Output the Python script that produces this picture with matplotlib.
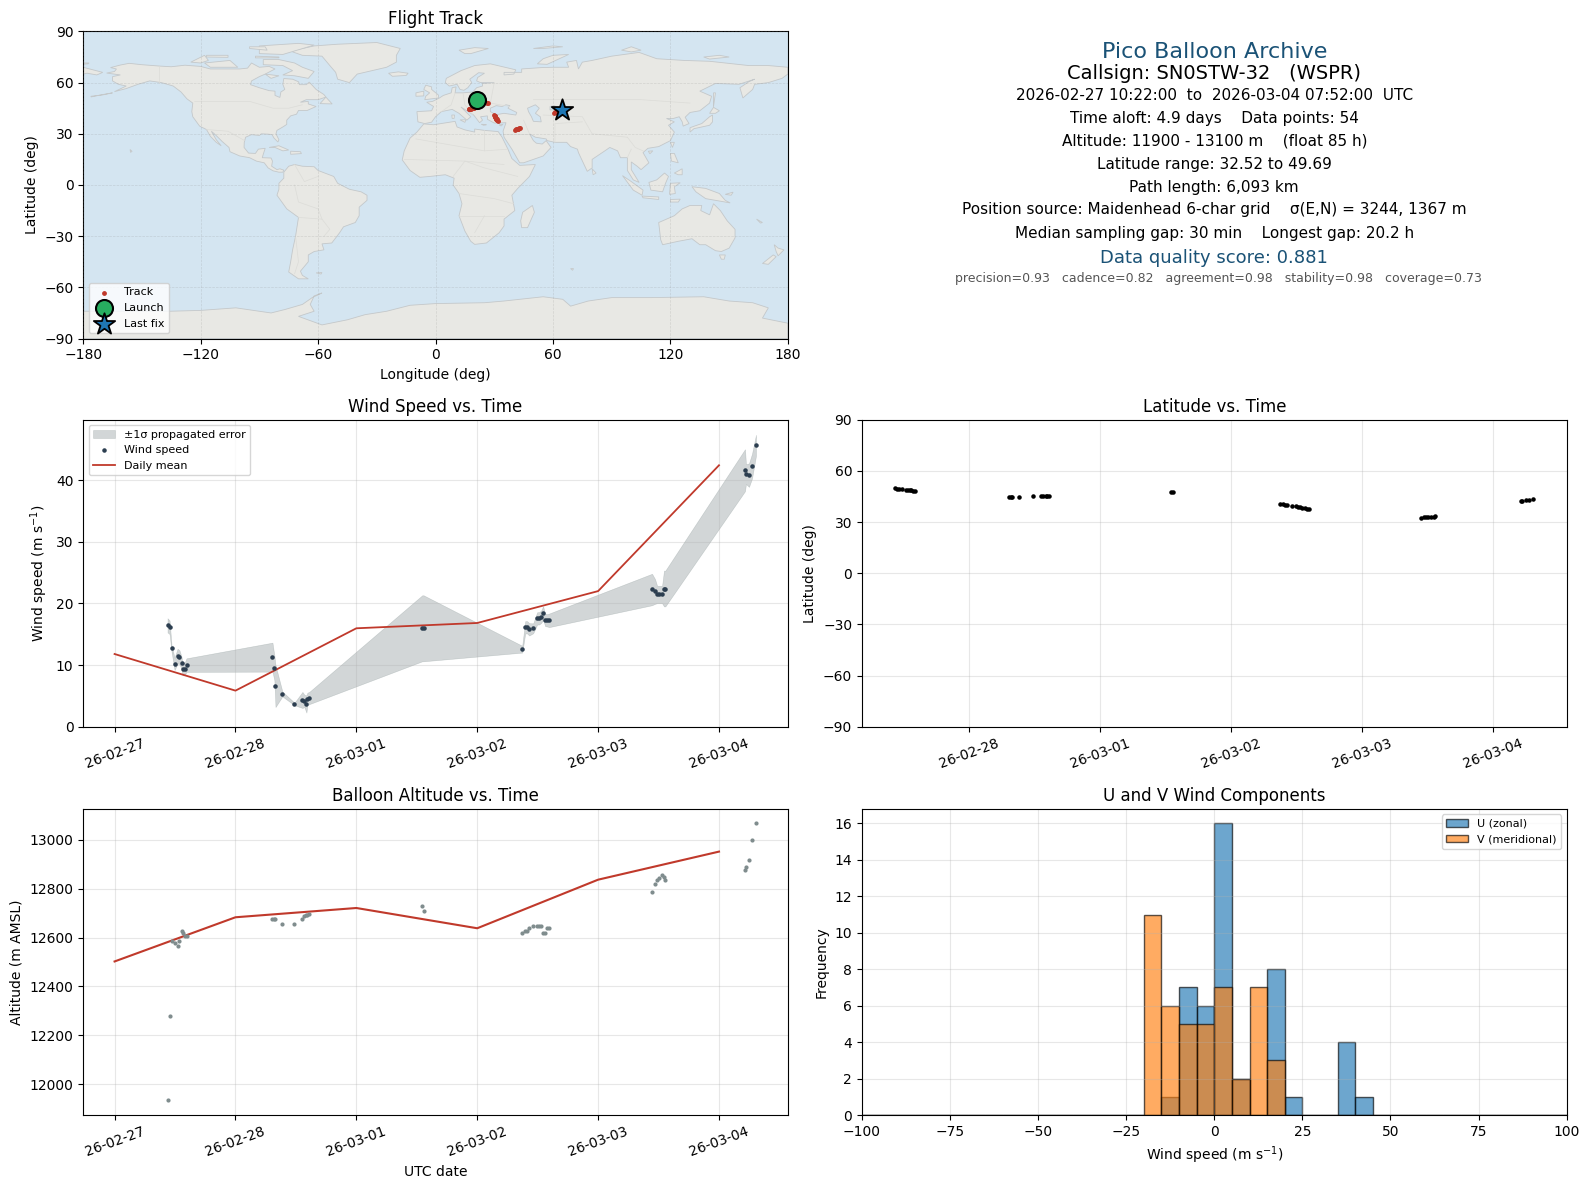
import numpy as np
import matplotlib
matplotlib.use("Agg")
import matplotlib.pyplot as plt
import matplotlib.dates as mdates

START = mdates.datestr2num("2026-02-27")

# days since 2026-02-27 00:00 UTC
days = [0.438, 0.455, 0.471, 0.496, 0.521, 0.537, 0.554, 0.562, 0.579, 0.595,
        1.306, 1.322, 1.331, 1.388, 1.488, 1.554, 1.570, 1.587, 1.595, 1.612,
        2.545, 2.556,
        3.372, 3.397, 3.413, 3.430, 3.463, 3.496, 3.512, 3.529, 3.545, 3.562, 3.579, 3.595,
        4.446, 4.471, 4.488, 4.504, 4.529, 4.545, 4.556,
        5.215, 5.223, 5.248, 5.273, 5.306]
wind = [16.45, 16.13, 12.74, 10.2, 11.45, 11.29, 10.32, 9.35, 9.35, 10.0,
        11.29, 9.52, 6.6, 5.32, 3.7, 4.35, 4.19, 3.7, 4.52, 4.68,
        15.97, 15.97,
        12.58, 16.13, 16.13, 15.8, 15.97, 17.58, 17.58, 17.85, 18.44, 17.31, 17.26, 17.26,
        22.26, 21.94, 21.45, 21.45, 21.45, 22.42, 22.42,
        41.6, 40.97, 40.8, 42.26, 45.65]
wind_err = [1.15, 1.1, 0.5, 1.0, 1.2, 1.1, 1.0, 1.0, 1.0, 1.1,
            2.35, 2.0, 3.4, 0.4, 0.2, 1.3, 1.0, 1.4, 1.0, 1.0,
            5.35, 5.35,
            0.55, 1.0, 1.0, 1.0, 0.8, 1.0, 1.0, 1.0, 1.1, 1.0, 1.0, 1.1,
            2.55, 2.0, 1.4, 1.4, 1.4, 2.9, 2.9,
            3.4, 1.6, 1.9, 2.0, 1.7]
altitude = [11935, 12277, 12587, 12579, 12567, 12587, 12628, 12620, 12608, 12608,
            12677, 12677, 12677, 12657, 12657, 12677, 12688, 12692, 12694, 12698,
            12730, 12710,
            12620, 12628, 12628, 12640, 12649, 12649, 12649, 12649, 12620, 12620, 12640, 12640,
            12788, 12820, 12837, 12845, 12857, 12849, 12837,
            12877, 12890, 12918, 13000, 13070]
lat = [49.69, 49.6, 49.5, 49.4, 49.0, 48.9, 48.8, 48.7, 48.3, 48.2,
       44.7, 44.7, 44.6, 44.7, 45.3, 45.4, 45.4, 45.4, 45.3, 45.3,
       47.6, 47.7,
       40.8, 40.5, 40.2, 40.0, 39.6, 39.2, 38.8, 38.6, 38.4, 38.0, 37.8, 37.7,
       32.52, 32.8, 32.9, 33.0, 33.0, 33.2, 33.6,
       42.4, 42.5, 43.0, 43.1, 43.7]
lon = [21.3, 21.9, 22.5, 23.1, 23.7, 24.3, 24.9, 25.5, 26.1, 26.6,
       17.0, 17.3, 17.6, 17.9, 18.2, 18.5, 18.8, 19.0, 19.3, 19.5,
       23.0, 23.3,
       30.0, 30.2, 30.3, 30.5, 30.6, 30.8, 30.9, 31.1, 31.2, 31.4, 31.5, 31.7,
       40.5, 41.0, 41.4, 41.9, 42.3, 42.8, 43.2,
       60.6, 61.2, 62.0, 63.0, 64.5]

mean_days = [0, 1, 2, 3, 4, 5]
mean_wind = [11.8, 5.86, 15.97, 16.83, 22.0, 42.4]
mean_alt = [12502, 12683, 12721, 12638, 12837, 12952]

hist_edges = np.arange(-100, 105, 5)
u_left = [-15, -10, -5, 0, 5, 15, 20, 35, 40]
u_counts = [1, 7, 6, 16, 2, 8, 1, 4, 1]
v_left = [-20, -15, -10, -5, 0, 5, 10, 15]
v_counts = [11, 6, 5, 5, 7, 2, 7, 3]

north_america = [(-168, 65.6), (-164, 66.5), (-163, 68), (-166, 68.8), (-161, 70.3), (-156.5, 71.3), (-150, 70.5),
                 (-141, 69.7), (-135, 69.3), (-128, 70.2), (-120, 69.5), (-115, 68), (-108, 68), (-100, 68),
                 (-96, 68.5), (-94, 71.5), (-90, 69), (-85, 69.5), (-82, 68), (-87, 65), (-90, 63.5), (-94, 61),
                 (-94.5, 58.8), (-90, 57), (-85, 55.3), (-82, 55), (-82, 52.5), (-79.5, 51.3), (-79, 54.5), (-77, 56),
                 (-78, 59), (-77.5, 62.4), (-73, 62), (-70, 60.5), (-69.5, 58.8), (-66, 58.8), (-64.5, 60.3), (-61, 56),
                 (-57, 53), (-56, 51.5), (-60, 50), (-66, 50), (-69, 48.5), (-65, 49), (-65, 47.5), (-61, 46),
                 (-65.5, 43.7), (-70, 43.7), (-71, 41.5), (-74, 40.5), (-76, 38), (-76, 35.5), (-78, 34), (-81, 32),
                 (-81.5, 30), (-80, 26.5), (-80.5, 25.2), (-82.5, 27.5), (-83.5, 29.5), (-85.5, 29.8), (-89, 30),
                 (-90, 29), (-94, 29.5), (-97, 28), (-97.7, 25), (-97.8, 22), (-95.5, 18.7), (-92, 18.5), (-90.5, 21),
                 (-87, 21.5), (-88, 18), (-88.5, 16), (-84, 15.8), (-83.3, 14), (-83.7, 11), (-81, 9), (-79.5, 9.5),
                 (-77.5, 8.7), (-78, 7.5), (-80, 7.5), (-83, 8.3), (-85.5, 10), (-87.5, 13), (-91.5, 14), (-95, 16),
                 (-100, 17), (-105, 19.5), (-105.5, 22), (-109, 25.5), (-112.5, 29.5), (-114.5, 31.5), (-112, 26.5),
                 (-109.5, 23), (-112, 25), (-115, 28.5), (-117, 32.5), (-120.5, 34.5), (-124, 40), (-124.5, 43),
                 (-124, 48), (-127, 50.5), (-130, 54.5), (-134, 58), (-140, 60), (-146, 61), (-152, 59), (-158, 56.5),
                 (-164, 54.7), (-158, 58), (-162, 59), (-165, 61), (-165, 63.5), (-161, 64.5)]
south_america = [(-72, 12), (-68, 11), (-62, 10.7), (-60, 8.5), (-52, 5), (-50, 1), (-44, -2.5), (-38, -4), (-35, -6),
                 (-35, -9), (-39, -13), (-39, -18), (-41, -22), (-47, -24.5), (-49, -28), (-53, -34), (-58, -34.5),
                 (-57, -38), (-62, -39), (-65, -41), (-65, -45), (-69, -50.5), (-68, -53), (-65, -55), (-70, -55),
                 (-75, -51), (-74, -45), (-73, -38), (-71.5, -30), (-70, -19), (-76, -14), (-81, -6), (-80, -2.5),
                 (-80, 1), (-77.5, 4), (-77.5, 7.5), (-75, 11)]
africa = [(-6, 35.8), (-1, 35.3), (10, 37.3), (11, 34), (15, 32.3), (20, 31), (20, 32.8), (25, 32), (32, 31.3), (34, 28),
          (37, 21), (39, 15.5), (43, 11.5), (51, 12), (48, 5), (42, -2), (39, -6), (40.5, -15), (35, -20), (35, -24),
          (32.5, -28), (26, -34), (20, -34.8), (18, -33), (15, -27), (12, -18), (13.5, -11), (12, -5), (9, 0), (9.5, 4),
          (5, 6), (-3, 5), (-8, 4.5), (-13, 8.5), (-17, 14.7), (-16, 20), (-13, 27.5), (-9.5, 31)]
eurasia = [(-5.5, 36), (-9, 37), (-9.5, 43), (-2, 43.5), (-1, 46), (-4.5, 48.5), (-1.5, 49), (2, 51), (4, 52.5), (8, 54),
           (8.5, 57), (10.5, 57.5), (10, 54), (14, 54), (19, 54.5), (21, 57), (24, 58), (24, 59.5), (30, 60), (23, 60),
           (21, 61), (21.5, 63), (25, 65.5), (22, 65.8), (17.5, 62), (18.5, 60), (16.5, 57), (14.5, 55.5), (12.5, 56),
           (11, 59), (7, 58), (5, 60), (5.5, 62.5), (13, 67), (20, 70), (28, 71), (41, 67.5), (40, 65), (35, 64.5),
           (35, 66), (44, 66), (44, 68), (54, 68.8), (60, 69), (68, 69), (67, 72), (72, 73), (73, 68), (75, 72), (80, 73),
           (90, 75.5), (104, 77.7), (113, 74), (127, 73), (140, 72.5), (160, 70), (170, 70), (180, 69), (180, 65),
           (177, 62.5), (170, 60), (163, 59), (162, 56), (157, 51), (155.5, 57), (160, 60.5), (163, 62), (155, 59),
           (143, 59.5), (135, 55), (141, 52), (140, 48), (135, 43.5), (130, 42.5), (127.5, 39.7), (129.5, 36),
           (126.5, 34.5), (126, 37), (124.5, 40), (121.5, 39), (118, 39), (122, 37), (119, 35), (122, 31), (120, 26),
           (114, 22.5), (108.5, 21.5), (106, 19), (109, 13), (105, 9), (103, 11), (100, 13.5), (100, 9), (104, 1.5),
           (101, 3), (98, 8.5), (98, 16), (94.5, 16), (93, 20), (89, 22), (86.5, 20), (80, 15), (80, 10), (77.5, 8),
           (73, 19), (72.5, 21), (69, 22.5), (67, 25), (61, 25), (57, 26), (56.5, 27), (51, 28), (48, 30), (50, 26),
           (51.5, 24.5), (54.5, 24), (56.5, 26), (59, 22), (55, 17), (45, 13), (43, 13), (39, 21), (35, 28), (34.5, 31.5),
           (36, 36.5), (30, 36.3), (26.5, 38.5), (26.5, 40.5), (23, 40), (24, 38), (22.5, 36.5), (19.5, 41), (13, 45.7),
           (18, 40), (16, 38), (12, 42), (8.5, 44.3), (3, 43), (0, 40), (-2, 36.8)]
greenland = [(-73, 78), (-68, 76), (-58, 75.5), (-54, 70), (-51, 66), (-50, 62), (-44, 60), (-40, 65), (-25, 69), (-20, 72),
             (-20, 76), (-18, 80), (-30, 83.5), (-50, 82.5), (-62, 81.5), (-72, 79)]
australia = [(114, -22), (122, -18), (126, -14), (130, -12), (136, -12), (135.5, -15), (140, -17.5), (142, -11),
             (145.5, -15), (149, -21), (153, -26), (153, -31), (150, -37), (146, -39), (143, -38.5), (138, -35),
             (135, -35), (131, -31.5), (124, -33), (116, -35), (115, -32)]
antarctica = [(-180, -74), (-136, -74), (-120, -73.5), (-102, -72), (-84, -75), (-77, -73), (-68, -70), (-63, -66),
              (-58, -63.3), (-62, -65), (-64, -70), (-62, -74), (-70, -77), (-58, -82), (-45, -79), (-36, -76),
              (-25, -74), (-13, -70.5), (0, -69.5), (25, -69), (35, -68), (55, -65.5), (65, -67), (69, -71), (78, -68),
              (90, -66), (110, -66), (137, -65.5), (150, -68), (162, -69), (170, -72), (167, -78), (180, -81),
              (180, -90), (-180, -90)]
islands = [
    [(-80, 73.5), (-72, 71.5), (-68, 69), (-62, 66.5), (-65, 62.5), (-72, 64), (-78, 64.5), (-73, 67), (-78, 70), (-88, 70.5), (-88, 73.5)],
    [(-118, 71.5), (-105, 73), (-101, 69), (-115, 69)],
    [(-125, 72), (-118, 76), (-116, 73), (-120, 71.5)],
    [(-90, 77), (-78, 76.5), (-62, 82), (-70, 83), (-90, 81.5)],
    [(-92, 75.5), (-80, 75), (-80, 74.5), (-92, 74.5)],
    [(-117, 76), (-106, 76), (-106, 74.8), (-117, 75)],
    [(-95, 80), (-86, 79), (-87, 81), (-95, 81)],
    [(-59, 47.7), (-56, 51.5), (-52.8, 47.5)],
    [(-87, 65), (-80, 64), (-84, 62.5)],
    [(-24, 65.5), (-19, 66.3), (-14, 65.5), (-15, 64.2), (-22, 63.7)],
    [(-85, 22), (-80, 23), (-75, 20.5), (-78, 20), (-82, 22)],
    [(-74, 19.8), (-69, 19.5), (-68.5, 18.4), (-74, 18)],
    [(-156, 20.8), (-155, 19.7), (-155.8, 19.1)],
    [(49.5, -12), (50.5, -16), (47, -25), (44, -25), (43.5, -21), (44.5, -16)],
    [(-5.5, 50), (1.5, 51), (1.5, 52.7), (-2, 56), (-2, 57.5), (-5, 58.5), (-6, 56), (-3, 54), (-5, 52)],
    [(-10, 52), (-6, 52.2), (-6, 55), (-10, 54)],
    [(12, 79), (20, 80.5), (27, 80), (18, 77), (15, 77)],
    [(52, 71), (57, 70.7), (68, 76.5), (60, 76), (55, 74)],
    [(131, 34), (136, 36), (140, 40), (141.5, 41), (141.5, 37), (140, 35), (136, 34), (132, 33), (130, 31), (130, 33.5)],
    [(140, 42), (142, 45.5), (145, 43.5), (143, 42)],
    [(142, 46), (143, 54), (142, 54), (142, 49)],
    [(120, 25), (122, 25), (121, 22)],
    [(80, 9.5), (82, 7), (80.5, 6)],
    [(120, 18.5), (122, 18.5), (124, 13), (120.5, 14)],
    [(122, 7), (126, 9.5), (126, 6), (124, 6)],
    [(109, 1.5), (113, 3), (117, 7), (119, 5), (117.5, 1), (116, -4), (110, -3)],
    [(95.5, 5.5), (100, 2), (106, -3), (105.5, -6), (101, -3)],
    [(105.5, -6.5), (114, -7), (114, -8.5), (106, -7.5)],
    [(120, 1), (125, 1.3), (122, -1), (122.5, -5), (119.5, -5.5)],
    [(131, -1), (138, -2), (145, -5), (148, -9), (150.5, -10.5), (143, -9), (138, -8), (133, -4)],
    [(145, -41), (148, -41), (147.5, -43.5), (146, -43.5)],
    [(173, -35), (175, -37), (178, -38), (175, -41.5), (174, -39)],
    [(172.5, -41), (174, -42), (170, -46.5), (167, -46)],
    [(-180, 69), (-175, 67.5), (-170, 66), (-173, 64.5), (-178, 65.5), (-180, 65)],
    [(-61, -51.5), (-58, -51.3), (-58.5, -52.2)],
    [(69, -49), (70.5, -49), (70, -50)],
    [(8.3, 41), (9.7, 41), (9.5, 39), (8.5, 39)],
    [(12.5, 38.2), (15.5, 38.2), (15, 36.7)],
    [(23.5, 35.6), (26, 35.3), (24.5, 35)],
    [(32.5, 35.2), (34.5, 35.6), (33.5, 34.6)],
    [(108.7, 19.8), (111, 20), (109.5, 18.3)],
    [(148, -5.5), (152, -4.2), (151, -6)],
    [(120, -8.5), (125, -8.3), (124, -10), (120, -10)],
    [(164, -20), (167, -22), (166, -22.3)],
    [(50, 80), (60, 81.5), (65, 81), (55, 80)],
    [(95, 79), (100, 81), (105, 79), (100, 78)],
    [(137, 75), (145, 76), (150, 75), (140, 73.8)],
    [(-180, 71.5), (-177, 71.5), (-177.5, 71), (-180, 70.8)],
    [(-176, 52), (-170, 52.8), (-165, 54), (-170, 53), (-176, 51.6)],
]
inland_seas = [
    [(28, 43), (28, 45), (31, 46.5), (34, 46), (36, 47), (38, 46.5), (37, 45), (41.5, 42.5), (41, 41), (35, 42), (31, 41.2)],
    [(47, 45), (51, 47), (53, 45), (51, 42), (53.5, 40), (54, 37), (50, 37.3), (49, 40), (47.5, 43)],
    [(58.5, 46), (61, 46.5), (61, 44), (58.5, 44)],
]
borders = [
    [(-141, 69.7), (-141, 60)],
    [(-123, 49), (-95, 49), (-83, 45), (-75, 45), (-68, 47)],
    [(-117, 32.5), (-106, 31.5), (-97.5, 26)],
    [(-70, -19), (-58, -20), (-54, -26), (-57, -30)],
    [(-72, 0), (-70, -10), (-60, -14), (-58, -20)],
    [(-72, 12), (-67, 2), (-60, 5)],
    [(-71.5, -30), (-70, -45), (-72, -52)],
    [(-10, 27), (25, 20), (25, 32)],
    [(25, 20), (37, 21)],
    [(-16, 15), (15, 14), (35, 12)],
    [(9, 5), (15, 14), (25, 10), (42, 5)],
    [(12, -5), (30, -8), (40, -11)],
    [(12, -18), (35, -18)],
    [(25, -18), (20, -28)],
    [(30, 60), (28, 48), (38, 46)],
    [(10, 54), (8, 47), (3, 43)],
    [(14, 54), (15, 47), (19, 41)],
    [(50, 50), (85, 50), (105, 50), (130, 48)],
    [(55, 41), (75, 40), (80, 30), (98, 28)],
    [(61, 25), (61, 36), (75, 37)],
    [(48, 30), (45, 38)],
    [(35, 30), (48, 30)],
    [(98, 28), (102, 22), (106, 20)],
    [(98, 16), (100, 21)],
]


def panel(left, top, right, bottom):
    return fig.add_axes([left / 1568, 1 - bottom / 1173, (right - left) / 1568, (bottom - top) / 1173])


def date_axis(ax):
    ax.xaxis_date()
    ax.xaxis.set_major_locator(mdates.DayLocator())
    ax.xaxis.set_major_formatter(mdates.DateFormatter("%y-%m-%d"))
    ax.tick_params(axis="x", labelrotation=20)
    ax.grid(True, alpha=0.3)


fig = plt.figure(figsize=(15.9, 11.89), dpi=100)

# flight track map
ax = panel(82, 31, 777, 334)
ax.set_facecolor("#d4e5f1")
for poly in [north_america, south_america, africa, eurasia, greenland, australia, antarctica] + islands:
    xs, ys = zip(*poly)
    ax.fill(xs, ys, facecolor="#e8e8e4", edgecolor="#c4c8ca", linewidth=0.6, zorder=1)
for poly in inland_seas:
    xs, ys = zip(*poly)
    ax.fill(xs, ys, facecolor="#d4e5f1", edgecolor="#c4c8ca", linewidth=0.6, zorder=1.1)
for line in borders:
    xs, ys = zip(*line)
    ax.plot(xs, ys, color="#dcdcd8", linewidth=0.5, zorder=1.2)
ax.scatter(lon, lat, s=6, color="#c0392b", zorder=3, label="Track")
ax.scatter(lon[0], lat[0], s=150, color="#27ae60", edgecolor="black", linewidth=1.5, zorder=4, label="Launch")
ax.scatter(lon[-1], lat[-1], s=260, marker="*", color="#1f77b4", edgecolor="black", linewidth=1.3, zorder=5, label="Last fix")
ax.set_xlim(-180, 180)
ax.set_ylim(-90, 90)
ax.set_xticks(np.arange(-180, 181, 60))
ax.set_yticks(np.arange(-90, 91, 30))
ax.grid(True, color="gray", alpha=0.22, linestyle="--", linewidth=0.5, zorder=2)
ax.set_axisbelow(False)
ax.set_title("Flight Track", pad=5)
ax.set_xlabel("Longitude (deg)")
ax.set_ylabel("Latitude (deg)")
ax.legend(loc="lower left", fontsize=8)

# summary text
cx = 1197.5 / 1568
fig.text(cx, 1 - 51 / 1173, "Pico Balloon Archive", ha="center", va="center", fontsize=16, color="#1a5276")
fig.text(cx, 1 - 72.6 / 1173, "Callsign: SN0STW-32   (WSPR)", ha="center", va="center", fontsize=14)
info_lines = ["2026-02-27 10:22:00  to  2026-03-04 07:52:00  UTC",
              "Time aloft: 4.9 days    Data points: 54",
              "Altitude: 11900 - 13100 m    (float 85 h)",
              "Latitude range: 32.52 to 49.69",
              "Path length: 6,093 km",
              "Position source: Maidenhead 6-char grid    σ(E,N) = 3244, 1367 m",
              "Median sampling gap: 30 min    Longest gap: 20.2 h"]
info_y = [94, 117, 139, 162, 185, 207, 230]
for text, y in zip(info_lines, info_y):
    fig.text(cx, 1 - y / 1173, text, ha="center", va="center", fontsize=11)
fig.text(cx, 1 - 255 / 1173, "Data quality score: 0.881", ha="center", va="center", fontsize=13, color="#1a5276")
fig.text(1201.5 / 1568, 1 - 275 / 1173, "precision=0.93   cadence=0.82   agreement=0.98   stability=0.98   coverage=0.73",
         ha="center", va="center", fontsize=9, color="#555555")

t = START + np.array(days)
t_mean = START + np.array(mean_days)
wind_arr = np.array(wind)
err_arr = np.array(wind_err)

# wind speed
ax = panel(82, 414, 777, 717)
ax.fill_between(t, wind_arr - err_arr, wind_arr + err_arr, color="#7f8c8d", alpha=0.35, linewidth=0.4, label="±1σ propagated error")
ax.scatter(t, wind, s=5, color="#2c3e50", zorder=3, label="Wind speed")
ax.plot(t_mean, mean_wind, color="#c0392b", linewidth=1.3, label="Daily mean")
date_axis(ax)
ax.set_xlim(START - 0.26, START + 5.57)
ax.set_ylim(0, 49.8)
ax.set_title("Wind Speed vs. Time", pad=5.6)
ax.set_ylabel("Wind speed (m s$^{-1}$)")
ax.legend(loc="upper left", fontsize=8)

# latitude
ax = panel(850, 414, 1545, 717)
ax.scatter(t, lat, s=5, color="black")
date_axis(ax)
ax.set_xlim(START + 0.187, START + 5.56)
ax.set_ylim(-90, 90)
ax.set_yticks(np.arange(-90, 91, 30))
ax.set_title("Latitude vs. Time", pad=5.6)
ax.set_ylabel("Latitude (deg)")

# altitude
ax = panel(82, 798, 777, 1100)
ax.scatter(t, altitude, s=4, color="#7f8c8d", zorder=3)
ax.plot(t_mean, mean_alt, color="#c0392b", linewidth=1.5)
date_axis(ax)
ax.set_xlim(START - 0.26, START + 5.57)
ax.set_ylim(11873, 13127)
ax.set_title("Balloon Altitude vs. Time")
ax.set_xlabel("UTC date")
ax.set_ylabel("Altitude (m AMSL)")

# U and V histogram
ax = panel(850, 798, 1545, 1100)
ax.hist(u_left, bins=hist_edges, weights=u_counts, color="#1f77b4", alpha=0.65, edgecolor="black", label="U (zonal)")
ax.hist(v_left, bins=hist_edges, weights=v_counts, color="#ff7f0e", alpha=0.65, edgecolor="black", label="V (meridional)")
ax.set_xlim(-100, 100)
ax.set_ylim(0, 16.8)
ax.grid(True, alpha=0.3)
ax.set_title("U and V Wind Components")
ax.set_xlabel("Wind speed (m s$^{-1}$)")
ax.set_ylabel("Frequency")
ax.legend(loc="upper right", fontsize=8)

fig.savefig("out.png", dpi=100)
